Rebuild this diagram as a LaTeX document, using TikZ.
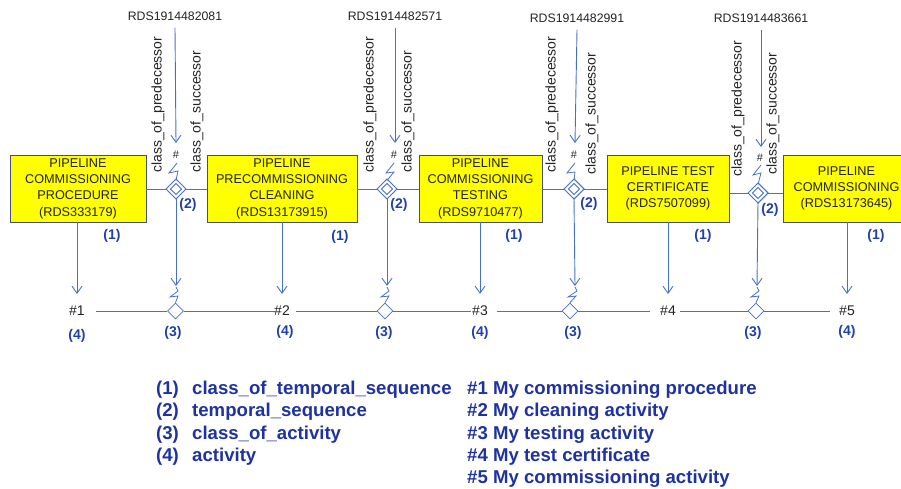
\documentclass[tikz,border=0pt]{standalone}
\usepackage{fontspec}
\setmainfont{Liberation Sans}
\usetikzlibrary{arrows.meta,shapes.geometric}
\definecolor{lineblue}{RGB}{72,112,200}
\definecolor{tagblue}{RGB}{32,64,168}
\definecolor{legendblue}{RGB}{30,50,160}
\definecolor{boxedge}{RGB}{70,80,120}
\definecolor{boxfill}{RGB}{255,255,0}
\definecolor{inktext}{RGB}{35,35,35}

\begin{document}
\begin{tikzpicture}[x=1pt,y=-1pt,
  conn/.style={draw=lineblue, line width=0.9pt},
  arr/.style={conn, -{Straight Barb[length=7pt,width=10pt]}},
  zig/.style={draw=lineblue, line width=0.8pt, line join=miter},
  objbox/.style={draw=boxedge, line width=0.9pt, fill=boxfill, align=center,
    font=\fontsize{12.7}{16.3}\selectfont, text=inktext, inner sep=0pt},
  seqmark/.style={diamond, draw=lineblue, double=white, double distance=2pt,
    line width=1.1pt, minimum width=16pt, minimum height=16pt, inner sep=0pt},
  actmark/.style={diamond, draw=lineblue, fill=white, line width=0.8pt,
    minimum width=16pt, minimum height=16pt, inner sep=0pt},
  rds/.style={font=\fontsize{12.3}{14}\selectfont, text=inktext, inner sep=1pt},
  role/.style={font=\fontsize{14}{15}\selectfont, text=inktext, rotate=90,
    anchor=west, inner sep=0pt},
  tag/.style={font=\bfseries\fontsize{14}{16}\selectfont, text=tagblue, inner sep=0pt},
  hashmark/.style={font=\fontsize{11}{11}\selectfont, text=inktext, inner sep=0pt},
  act/.style={font=\fontsize{14}{16}\selectfont, text=inktext, inner sep=3pt},
  legend/.style={font=\bfseries\fontsize{18.6}{22}\selectfont, text=legendblue,
    anchor=base west, inner sep=0pt}
]
\useasboundingbox (0,0) rectangle (901,489);
\begin{scope}
\clip (0,0) rectangle (901,489);

% ---- activity classes ----
\node[objbox, minimum width=136pt, minimum height=67pt] (box1) at (78,188.5)
  {PIPELINE\\COMMISSIONING\\PROCEDURE\\(RDS333179)};
\node[objbox, minimum width=150pt, minimum height=67pt] (box2) at (282,188.5)
  {PIPELINE\\PRECOMMISSIONING\\CLEANING\\(RDS13173915)};
\node[objbox, minimum width=123pt, minimum height=67pt] (box3) at (480.5,188.5)
  {PIPELINE\\COMMISSIONING\\TESTING\\(RDS9710477)};
\node[objbox, minimum width=122pt, minimum height=67pt] (box4) at (668,188.5)
  {PIPELINE TEST\\CERTIFICATE\\(RDS7507099)};
\node[objbox, minimum width=127pt, minimum height=67pt] (box5) at (846.5,188.5)
  {PIPELINE\\COMMISSIONING\\(RDS13173645)};

% ---- temporal sequence diamonds ----
\node[seqmark] (d1) at (176,189) {};
\node[seqmark] (d2) at (387,189) {};
\node[seqmark] (d3) at (574,189) {};
\node[seqmark] (d4) at (758,193) {};

% ---- relation classes above ----
\node[rds] (r1) at (175,16) {RDS1914482081};
\node[rds] (r2) at (395,16) {RDS1914482571};
\node[rds] (r3) at (577,18) {RDS1914482991};
\node[rds] (r4) at (761,18) {RDS1914483661};

\coordinate (t1) at (176,143);
\coordinate (t2) at (395,143);
\coordinate (t3) at (575,143);
\coordinate (t4) at (761,147);

\draw[arr] (r1.south) ++(0,6) -- (t1);
\draw[arr] (r2.south) ++(0,6) -- (t2);
\draw[arr] (r3.south) ++(0,6) -- (t3);
\draw[arr] (r4.south) ++(0,6) -- (t4);

\node[hashmark] (hs1) at (176,155) {\#};
\node[hashmark] (hs2) at (394,155) {\#};
\node[hashmark] (hs3) at (574,155) {\#};
\node[hashmark] (hs4) at (760,158) {\#};

\draw[zig] (177,163) -- (169,173) -- (178,171) -- (d1.north);
\draw[zig] (394,163) -- (386,173) -- (394,172) -- (d2.north);
\draw[zig] (575,163) -- (567,173) -- (575,172) -- (d3.north);
\draw[zig] (761,165) -- (753,175) -- (761,173) -- (d4.north);

\node[role] (p1) at (158,173) {class\_of\_predecessor};
\node[role] (s1) at (197,173) {class\_of\_successor};
\node[role] (p2) at (370,173) {class\_of\_predecessor};
\node[role] (s2) at (408,173) {class\_of\_successor};
\node[role] (p3) at (552,173) {class\_of\_predecessor};
\node[role] (s3) at (592,175) {class\_of\_successor};
\node[role] (p4) at (738,177) {class\_of\_predecessor};
\node[role] (s4) at (773,175) {class\_of\_successor};

% ---- sequence links between the classes ----
\draw[conn] (d1.west -| box1.east) -- (d1.west);
\draw[conn] (d1.east) -- (d1.east -| box2.west);
\draw[conn] (d2.west -| box2.east) -- (d2.west);
\draw[conn] (d2.east) -- (d2.east -| box3.west);
\draw[conn] (d3.west -| box3.east) -- (d3.west);
\draw[conn] (d3.east) -- (d3.east -| box4.west);
\draw[conn] (d4.west -| box4.east) -- (d4.west);
\draw[conn] (d4.east) -- (d4.east -| box5.west);

% ---- activities ----
\node[act] (h1) at (77,311) {\#1};
\node[act] (h2) at (282,311) {\#2};
\node[act] (h3) at (480,311) {\#3};
\node[act] (h4) at (668,311) {\#4};
\node[act] (h5) at (847,311) {\#5};

\node[actmark] (b1) at (175.5,311) {};
\node[actmark] (b2) at (385,311) {};
\node[actmark] (b3) at (570,311) {};
\node[actmark] (b4) at (756,311) {};

\draw[arr, shorten >=9pt] (box1.south -| h1) -- (h1.north);
\draw[arr, shorten >=9pt] (box2.south -| h2) -- (h2.north);
\draw[arr, shorten >=9pt] (box3.south -| h3) -- (h3.north);
\draw[arr, shorten >=9pt] (box4.south -| h4) -- (h4.north);
\draw[arr, shorten >=9pt] (box5.south -| h5) -- (h5.north);

\coordinate (u1) at (176,286);
\coordinate (u2) at (387,286);
\coordinate (u3) at (575,286);
\coordinate (u4) at (757,286);
\draw[arr] (d1.south) -- (u1);
\draw[arr] (d2.south) -- (u2);
\draw[arr] (d3.south) -- (u3);
\draw[arr] (d4.south) -- (u4);

\draw[zig] (176,287) -- (178,291) -- (170,297) -- (178,296) -- (b1.north);
\draw[zig] (387,287) -- (389,291) -- (381,297) -- (389,296) -- (b2.north);
\draw[zig] (575,287) -- (577,291) -- (568,297) -- (576,296) -- (b3.north);
\draw[zig] (757,287) -- (759,291) -- (751,297) -- (759,296) -- (b4.north);

\draw[conn] ([xshift=8pt]h1.east) -- (b1.west);
\draw[conn] (b1.east) -- ([xshift=8pt]h2.west);
\draw[conn] ([xshift=3pt]h2.east) -- (b2.west);
\draw[conn] (b2.east) -- ([xshift=2pt]h3.west);
\draw[conn] ([xshift=6pt]h3.east) -- (b3.west);
\draw[conn] (b3.east) -- ([xshift=-7pt]h4.west);
\draw[conn] ([xshift=1pt]h4.east) -- (b4.west);
\draw[conn] (b4.east) -- ([xshift=-6pt]h5.west);

% ---- reference tags ----
\node[tag] (c1) at (112,236) {(1)};
\node[tag] (c2) at (340,237) {(1)};
\node[tag] (c3) at (514,236) {(1)};
\node[tag] (c4) at (703,236) {(1)};
\node[tag] (c5) at (876,236) {(1)};

\node[tag] (q1) at (188,205) {(2)};
\node[tag] (q2) at (399,205) {(2)};
\node[tag] (q3) at (589,204) {(2)};
\node[tag] (q4) at (770,210) {(2)};

\node[tag] (k1) at (173,333) {(3)};
\node[tag] (k2) at (384,333) {(3)};
\node[tag] (k3) at (573,333) {(3)};
\node[tag] (k4) at (753,333) {(3)};

\node[tag] (a1) at (77,336) {(4)};
\node[tag] (a2) at (285,332) {(4)};
\node[tag] (a3) at (480,333) {(4)};
\node[tag] (a4) at (847,332) {(4)};

% ---- legend ----
\node[legend] (l1n) at (156,394) {(1)};
\node[legend] (l2n) at (156,416.5) {(2)};
\node[legend] (l3n) at (156,439) {(3)};
\node[legend] (l4n) at (156,461) {(4)};
\node[legend] (l1t) at (192,394) {class\_of\_temporal\_sequence};
\node[legend] (l2t) at (192,416.5) {temporal\_sequence};
\node[legend] (l3t) at (192,439) {class\_of\_activity};
\node[legend] (l4t) at (192,461) {activity};
\node[legend] (m1) at (467,394) {\#1 My commissioning procedure};
\node[legend] (m2) at (467,416.5) {\#2 My cleaning activity};
\node[legend] (m3) at (467,439) {\#3 My testing activity};
\node[legend] (m4) at (467,461) {\#4 My test certificate};
\node[legend] (m5) at (467,483) {\#5 My commissioning activity};
\end{scope}
\end{tikzpicture}
\end{document}
